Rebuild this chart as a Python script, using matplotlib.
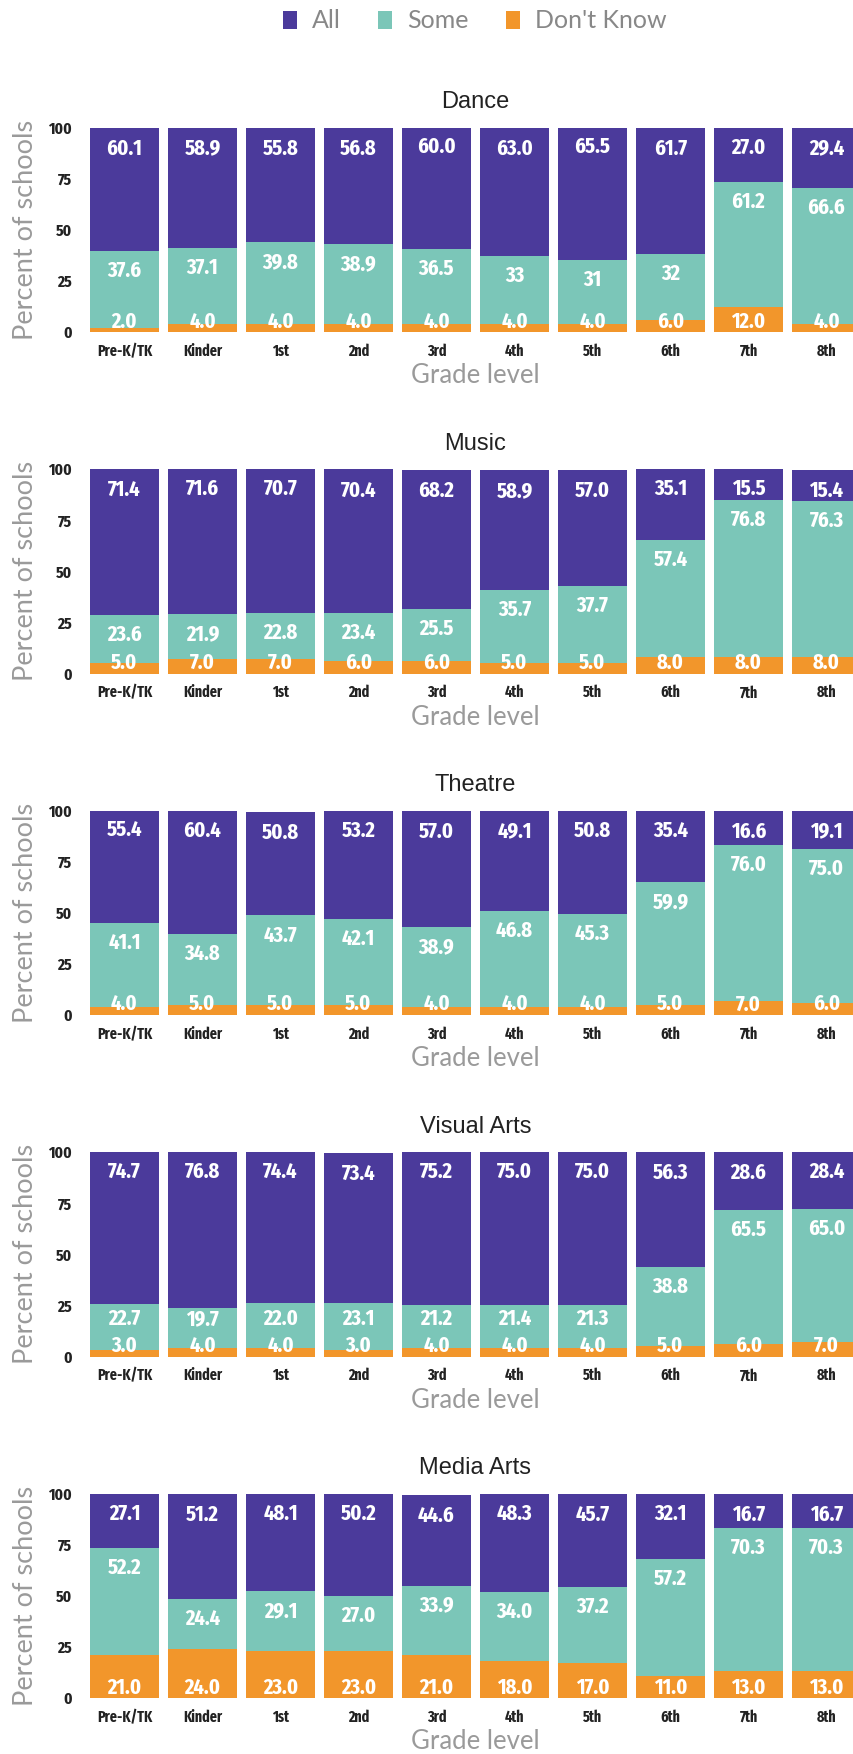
import numpy as np
import matplotlib
matplotlib.use("Agg")
import matplotlib.pyplot as plt
from matplotlib import font_manager as fm
from matplotlib.patches import Patch

# ---------------- data ----------------
grades = ["Pre-K/TK", "Kinder", "1st", "2nd", "3rd", "4th", "5th", "6th", "7th", "8th"]
subjects = ["Dance", "Music", "Theatre", "Visual Arts", "Media Arts"]
series_names = ["All", "Some", "Don't Know"]

dance_all = ["60.1", "58.9", "55.8", "56.8", "60.0", "63.0", "65.5", "61.7", "27.0", "29.4"]
dance_some = ["37.6", "37.1", "39.8", "38.9", "36.5", "33", "31", "32", "61.2", "66.6"]
dance_dk = ["2.0", "4.0", "4.0", "4.0", "4.0", "4.0", "4.0", "6.0", "12.0", "4.0"]

music_all = ["71.4", "71.6", "70.7", "70.4", "68.2", "58.9", "57.0", "35.1", "15.5", "15.4"]
music_some = ["23.6", "21.9", "22.8", "23.4", "25.5", "35.7", "37.7", "57.4", "76.8", "76.3"]
music_dk = ["5.0", "7.0", "7.0", "6.0", "6.0", "5.0", "5.0", "8.0", "8.0", "8.0"]

theatre_all = ["55.4", "60.4", "50.8", "53.2", "57.0", "49.1", "50.8", "35.4", "16.6", "19.1"]
theatre_some = ["41.1", "34.8", "43.7", "42.1", "38.9", "46.8", "45.3", "59.9", "76.0", "75.0"]
theatre_dk = ["4.0", "5.0", "5.0", "5.0", "4.0", "4.0", "4.0", "5.0", "7.0", "6.0"]

visual_all = ["74.7", "76.8", "74.4", "73.4", "75.2", "75.0", "75.0", "56.3", "28.6", "28.4"]
visual_some = ["22.7", "19.7", "22.0", "23.1", "21.2", "21.4", "21.3", "38.8", "65.5", "65.0"]
visual_dk = ["3.0", "4.0", "4.0", "3.0", "4.0", "4.0", "4.0", "5.0", "6.0", "7.0"]

media_all = ["27.1", "51.2", "48.1", "50.2", "44.6", "48.3", "45.7", "32.1", "16.7", "16.7"]
media_some = ["52.2", "24.4", "29.1", "27.0", "33.9", "34.0", "37.2", "57.2", "70.3", "70.3"]
media_dk = ["21.0", "24.0", "23.0", "23.0", "21.0", "18.0", "17.0", "11.0", "13.0", "13.0"]

yticks = [0, 25, 50, 75, 100]

panel_data = {
    "Dance": (dance_all, dance_some, dance_dk),
    "Music": (music_all, music_some, music_dk),
    "Theatre": (theatre_all, theatre_some, theatre_dk),
    "Visual Arts": (visual_all, visual_some, visual_dk),
    "Media Arts": (media_all, media_some, media_dk),
}

# ---------------- style ----------------
C_ALL = "#4b3a9b"
C_SOME = "#7bc6b8"
C_DK = "#f2962b"
C_GREY = "#9a9a9a"
C_DARK = "#222222"


def have(family):
    try:
        fm.findfont(fm.FontProperties(family=family), fallback_to_default=False)
        return True
    except Exception:
        return False


def find_narrow_bold():
    order = {"ultra-condensed": 4, "extra-condensed": 3, "condensed": 2, "semi-condensed": 1}
    best, best_score = None, -1e9
    for f in fm.fontManager.ttflist:
        name = (f.name + " " + f.fname).lower()
        st = f.stretch if isinstance(f.stretch, str) else ""
        narrowness = order.get(st, 0)
        if "narrow" in name or "condensed" in name:
            narrowness = max(narrowness, 2)
        if "extracondensed" in name or "extra condensed" in name:
            narrowness = max(narrowness, 3)
        if narrowness == 0:
            continue
        try:
            w = int(f.weight)
        except Exception:
            w = {"bold": 700, "semibold": 600, "demibold": 600, "medium": 500,
                 "normal": 400, "regular": 400, "light": 300}.get(str(f.weight).lower(), 400)
        if "italic" in name or f.style != "normal":
            continue
        score = narrowness * 100 - abs(w - 700) * 0.5
        if score > best_score:
            best, best_score = f, score
    return best


nf = find_narrow_bold()
if nf is not None:
    NARROW = fm.FontProperties(fname=nf.fname)
    VAL_FS, YT_FS, XT_FS = 16, 12, 11
else:
    NARROW = fm.FontProperties(family="DejaVu Sans", weight="bold")
    VAL_FS, YT_FS, XT_FS = 12.5, 10, 8.5


def nprop(size):
    p = NARROW.copy()
    p.set_size(size)
    return p


LIGHT = dict(family="Lato" if have("Lato") else "DejaVu Sans", weight="normal")
TITLE = dict(family="Liberation Sans" if have("Liberation Sans") else "DejaVu Sans")

W, H, DPI = 854, 1754, 100
fig = plt.figure(figsize=(W / DPI, H / DPI), dpi=DPI)
fig.patch.set_facecolor("white")

AX_LEFT = 85.5
AX_W = 780.0
AX_H = 204.5
BOTTOM0 = 332.0
PITCH = 341.5
ppu = AX_H / 100.0  # pixels per data unit

x = np.arange(len(grades))
for k, subj in enumerate(subjects):
    a_lab, s_lab, d_lab = panel_data[subj]
    av = np.array([float(v) for v in a_lab])
    sv = np.array([float(v) for v in s_lab])
    dv = np.array([float(v) for v in d_lab])

    y_bottom = BOTTOM0 + PITCH * k
    ax = fig.add_axes([AX_LEFT / W, 1 - y_bottom / H, AX_W / W, AX_H / H])
    ax.bar(x, dv, width=0.885, color=C_DK, linewidth=0)
    ax.bar(x, sv, bottom=dv, width=0.885, color=C_SOME, linewidth=0)
    ax.bar(x, av, bottom=dv + sv, width=0.885, color=C_ALL, linewidth=0)
    ax.set_xlim(-0.5, len(grades) - 0.5)
    ax.set_ylim(0, 100)

    for sp in ax.spines.values():
        sp.set_visible(False)
    ax.tick_params(length=0)
    ax.set_yticks(yticks)
    ax.set_yticklabels([str(t) for t in yticks], color=C_DARK, fontproperties=nprop(YT_FS))
    ax.tick_params(axis="y", pad=10)
    ax.set_xticks(x)
    ax.set_xticklabels(grades, color=C_DARK, fontproperties=nprop(XT_FS))
    ax.tick_params(axis="x", pad=8)

    ax.set_xlabel("Grade level", color=C_GREY, fontsize=18.5, labelpad=3, **LIGHT)
    ax.set_ylabel("Percent of schools", color=C_GREY, fontsize=19.5, **LIGHT)
    ax.yaxis.set_label_coords((38 - AX_LEFT) / AX_W, 0.5)
    ax.set_title(subj, color=C_DARK, fontsize=17, pad=14, **TITLE)

    cap = 0.72 * VAL_FS * DPI / 72.0 / ppu  # cap height in data units
    dk_c = 12.5 / ppu
    for i in range(len(grades)):
        some_top = dv[i] + sv[i]
        all_top = some_top + av[i]
        some_c = max(some_top - 18 / ppu, dk_c + 27 / ppu)
        all_c = all_top - 19 / ppu
        for yc, lab in ((dk_c, d_lab[i]), (some_c, s_lab[i]), (all_c, a_lab[i])):
            ax.text(x[i], yc - cap / 2, lab, ha="center", va="baseline",
                    color="white", fontproperties=nprop(VAL_FS))

handles = [Patch(facecolor=c, edgecolor="none") for c in (C_ALL, C_SOME, C_DK)]
leg = fig.legend(handles, series_names, loc="center", ncol=3,
                 bbox_to_anchor=(475 / W, 1 - 21 / H), frameon=False,
                 handlelength=0.55, handleheight=0.7, handletextpad=0.6,
                 columnspacing=1.5, prop=fm.FontProperties(size=18, **LIGHT))
for t in leg.get_texts():
    t.set_color("#888888")

fig.savefig("out.png", dpi=DPI, facecolor="white")
